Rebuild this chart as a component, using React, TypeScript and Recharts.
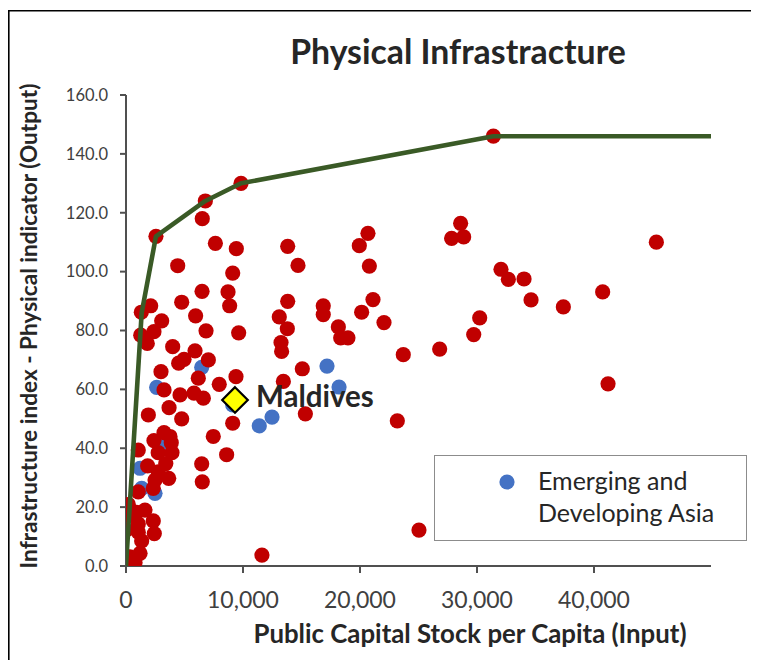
import React from 'react';
import {
  ScatterChart,
  Scatter,
  XAxis,
  YAxis,
  Legend,
  Customized,
} from 'recharts';

// ---- Data ----
const otherCountries = [
  { x: 31400, y: 146 }, { x: 9830, y: 130 }, { x: 6780, y: 124 }, { x: 6520, y: 118 },
  { x: 2560, y: 112 }, { x: 4420, y: 102 }, { x: 7640, y: 109.6 }, { x: 9430, y: 107.8 },
  { x: 9120, y: 99.5 }, { x: 6500, y: 93.3 }, { x: 8720, y: 93.1 }, { x: 8860, y: 88.4 },
  { x: 4760, y: 89.6 }, { x: 2110, y: 88.4 }, { x: 1310, y: 86.2 }, { x: 3050, y: 83.3 },
  { x: 5950, y: 85 }, { x: 13820, y: 108.6 }, { x: 14700, y: 102.1 }, { x: 13820, y: 89.9 },
  { x: 13100, y: 84.6 }, { x: 16860, y: 88.4 }, { x: 16860, y: 85.4 }, { x: 19940, y: 108.8 },
  { x: 20680, y: 113 }, { x: 20800, y: 101.9 }, { x: 21110, y: 90.5 }, { x: 20140, y: 86.2 },
  { x: 22050, y: 82.7 }, { x: 28600, y: 116.4 }, { x: 27830, y: 111.3 }, { x: 28860, y: 111.8 },
  { x: 45330, y: 110 }, { x: 32050, y: 100.8 }, { x: 32680, y: 97.4 }, { x: 34020, y: 97.5 },
  { x: 34620, y: 90.4 }, { x: 37380, y: 88 }, { x: 40740, y: 93.1 }, { x: 41200, y: 61.9 },
  { x: 13790, y: 80.6 }, { x: 13250, y: 75.9 }, { x: 13300, y: 72.9 }, { x: 18150, y: 81.2 },
  { x: 18350, y: 77.5 }, { x: 18970, y: 77.5 }, { x: 23700, y: 71.8 }, { x: 26810, y: 73.7 },
  { x: 30230, y: 84.3 }, { x: 29720, y: 78.6 }, { x: 15070, y: 67 }, { x: 13450, y: 62.7 },
  { x: 15330, y: 51.7 }, { x: 23190, y: 49.3 }, { x: 25040, y: 12.2 }, { x: 11620, y: 3.7 },
  { x: 6840, y: 79.9 }, { x: 9630, y: 79.2 }, { x: 1260, y: 78.4 }, { x: 1820, y: 75.6 },
  { x: 2390, y: 79.6 }, { x: 3990, y: 74.5 }, { x: 5900, y: 73.1 }, { x: 4960, y: 70.2 },
  { x: 4500, y: 68.9 }, { x: 7040, y: 70 }, { x: 2990, y: 66 }, { x: 6180, y: 63.8 },
  { x: 7970, y: 61.7 }, { x: 9400, y: 64.3 }, { x: 3250, y: 59.8 }, { x: 4620, y: 58.1 },
  { x: 5810, y: 58.7 }, { x: 6610, y: 57 }, { x: 3680, y: 53.8 }, { x: 4760, y: 50 },
  { x: 1910, y: 51.3 }, { x: 9120, y: 48.5 }, { x: 7460, y: 44 }, { x: 8600, y: 37.8 },
  { x: 3250, y: 45.3 }, { x: 3760, y: 44 }, { x: 2390, y: 42.6 }, { x: 3870, y: 41.9 },
  { x: 3930, y: 38.5 }, { x: 2750, y: 38.5 }, { x: 3400, y: 34.8 }, { x: 1850, y: 34 },
  { x: 6470, y: 34.7 }, { x: 6520, y: 28.6 }, { x: 1050, y: 39.4 }, { x: 2750, y: 32 },
  { x: 3650, y: 29.8 }, { x: 2480, y: 29.2 }, { x: 2330, y: 26.4 }, { x: 1050, y: 25.2 },
  { x: 200, y: 20.9 }, { x: 1620, y: 19 }, { x: 910, y: 18.2 }, { x: 200, y: 17.3 },
  { x: 2330, y: 15.3 }, { x: 1050, y: 14.3 }, { x: 0, y: 12.2 }, { x: 1050, y: 11.5 },
  { x: 2420, y: 11 }, { x: 1340, y: 8.5 }, { x: 1200, y: 4.3 }, { x: 340, y: 3.1 },
  { x: 770, y: 1.2 },
];

const emergingAsia = [
  { x: 17180, y: 67.9 }, { x: 18210, y: 60.8 }, { x: 12480, y: 50.6 }, { x: 11390, y: 47.6 },
  { x: 9120, y: 54.7 }, { x: 6470, y: 67.5 }, { x: 2620, y: 60.7 }, { x: 3050, y: 41.7 },
  { x: 1200, y: 33.2 }, { x: 1340, y: 26.4 }, { x: 2480, y: 24.7 },
];

const maldives = [{ x: 9316, y: 56.4, name: 'Maldives' }];

const frontier = [
  { x: 0, y: 0 }, { x: 1340, y: 86 }, { x: 2560, y: 112 }, { x: 6780, y: 124 },
  { x: 9830, y: 130 }, { x: 31400, y: 146 }, { x: 50000, y: 146 },
];

const xTicks = [0, 10000, 20000, 30000, 40000];
const yTicks = [0, 20, 40, 60, 80, 100, 120, 140, 160];

const TITLE = 'Physical Infrastracture';
const X_LABEL = 'Public Capital Stock per Capita (Input)';
const Y_LABEL = 'Infrastructure index - Physical indicator (Output)';
const ASIA_NAME = 'Emerging and Developing Asia';

// ---- Styles ----
const FONT = 'Lato, "Open Sans", sans-serif';
const RED = '#C00000';
const BLUE = '#4472C4';
const GREEN = '#3A5A26';
const AXIS = '#505050';
const TEXT = '#262626';
const DOT_R = 7.6;

const RedDot = (props: any) => <circle cx={props.cx} cy={props.cy} r={DOT_R} fill={RED} />;
const BlueDot = (props: any) => <circle cx={props.cx} cy={props.cy} r={DOT_R} fill={BLUE} />;

const DiamondShape = (props: any) => {
  const { cx, cy, payload } = props;
  const h = 12.8;
  return (
    <g>
      <path
        d={`M${cx},${cy - h} L${cx + h},${cy} L${cx},${cy + h} L${cx - h},${cy} Z`}
        fill="#FFFF00"
        stroke="#000"
        strokeWidth={2.2}
        strokeLinejoin="miter"
      />
      <text
        x={cx + 21}
        y={cy + 7.5}
        fontFamily={FONT}
        fontWeight={700}
        fontSize={29.5}
        fill={TEXT}
      >
        {payload?.name}
      </text>
    </g>
  );
};

const EmptyShape = () => <g />;

const renderLegend = (props: any) => {
  const items = (props.payload || []).filter((p: any) => p.value === ASIA_NAME);
  return (
    <div
      style={{
        width: 313,
        height: 86,
        boxSizing: 'border-box',
        border: '1.5px solid #8c8c8c',
        background: '#fff',
        position: 'relative',
        fontFamily: FONT,
      }}
    >
      {items.map((it: any) => (
        <div key={it.value}>
          <svg
            width={16}
            height={16}
            style={{ position: 'absolute', left: 64, top: 18 }}
          >
            <circle cx={8} cy={8} r={DOT_R} fill={BLUE} />
          </svg>
          <div
            style={{
              position: 'absolute',
              left: 103,
              top: 9,
              width: 200,
              fontSize: 25,
              lineHeight: '31.7px',
              color: TEXT,
              textAlign: 'left',
            }}
          >
            {it.value}
          </div>
        </div>
      ))}
    </div>
  );
};

const Decor = () => (
  <g>
    <line x1={0.8} y1={2} x2={0.8} y2={652} stroke="#000" strokeWidth={1.6} />
    <line x1={0} y1={2.8} x2={760} y2={2.8} stroke="#000" strokeWidth={1.6} />
    <text
      x={450}
      y={56}
      textAnchor="middle"
      fontFamily={FONT}
      fontWeight={700}
      fontSize={33.8}
      fill={TEXT}
    >
      {TITLE}
    </text>
    <text
      x={0}
      y={0}
      transform="translate(28.7,318) rotate(-90)"
      textAnchor="middle"
      fontFamily={FONT}
      fontWeight={700}
      fontSize={22.6}
      fill={TEXT}
    >
      {Y_LABEL}
    </text>
    <text
      x={462}
      y={634.7}
      textAnchor="middle"
      fontFamily={FONT}
      fontWeight={700}
      fontSize={25.8}
      fill={TEXT}
    >
      {X_LABEL}
    </text>
  </g>
);

const fmtX = (v: number) => v.toLocaleString('en-US');
const fmtY = (v: number) => v.toFixed(1);

export default function App() {
  return (
    <div
      style={{
        position: 'relative',
        width: 760,
        height: 652,
        overflow: 'hidden',
        background: '#fff',
      }}
    >
      <style>{'html, body { overflow: hidden; }'}</style>
      <ScatterChart
        width={760}
        height={652}
        margin={{ top: 87, right: 57, bottom: 34, left: 0 }}
      >
        <XAxis
          type="number"
          dataKey="x"
          domain={[0, 50000]}
          ticks={xTicks}
          tickFormatter={fmtX}
          height={60}
          tickSize={7}
          tickMargin={19}
          axisLine={{ stroke: AXIS, strokeWidth: 2 }}
          tickLine={{ stroke: AXIS, strokeWidth: 2 }}
          tick={{ fill: '#404040', fontSize: 23, fontFamily: FONT }}
          allowDataOverflow
        />
        <YAxis
          type="number"
          dataKey="y"
          domain={[0, 160]}
          ticks={yTicks}
          tickFormatter={fmtY}
          width={118}
          tickSize={6}
          tickMargin={12}
          axisLine={{ stroke: AXIS, strokeWidth: 2 }}
          tickLine={{ stroke: AXIS, strokeWidth: 2 }}
          tick={{ fill: '#404040', fontSize: 16.5, fontFamily: FONT }}
          allowDataOverflow
        />
        <Scatter
          name={ASIA_NAME}
          data={emergingAsia}
          fill={BLUE}
          shape={BlueDot}
          isAnimationActive={false}
        />
        <Scatter
          name="Other countries"
          data={otherCountries}
          fill={RED}
          shape={RedDot}
          legendType="none"
          isAnimationActive={false}
        />
        <Scatter
          name="Frontier"
          data={frontier}
          fill={GREEN}
          line={{ stroke: GREEN, strokeWidth: 4.6, strokeLinecap: 'round', strokeLinejoin: 'round' }}
          lineType="joint"
          shape={EmptyShape}
          legendType="none"
          isAnimationActive={false}
        />
        <Scatter
          name="Maldives"
          data={maldives}
          fill="#FFFF00"
          shape={DiamondShape}
          legendType="none"
          isAnimationActive={false}
        />
        <Legend
          layout="horizontal"
          verticalAlign="middle"
          align="center"
          content={renderLegend}
          wrapperStyle={{ left: 426, top: 447, width: 313, height: 86 }}
        />
        <Customized component={Decor} />
      </ScatterChart>
    </div>
  );
}
